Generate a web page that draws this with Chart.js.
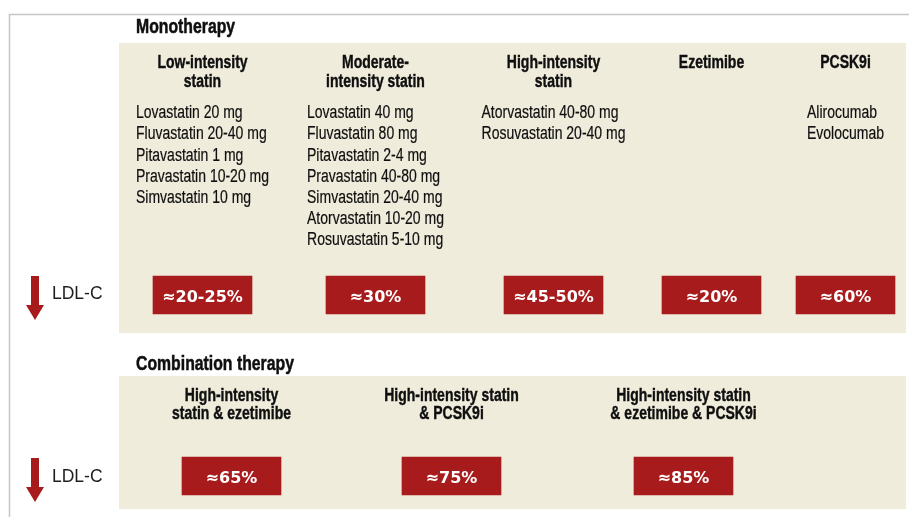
<!DOCTYPE html>
<html>
<head>
<meta charset="utf-8">
<title>LDL-C lowering therapies</title>
<script src="https://cdn.jsdelivr.net/npm/chart.js@4.4.1/dist/chart.umd.min.js"></script>
<style>
  html, body { margin: 0; padding: 0; background: #fff; }
  #wrap { width: 909px; height: 517px; }
</style>
</head>
<body>
<div id="wrap"><canvas id="chart" width="909" height="517"></canvas></div>
<script>
// ===== DATA =====
const sectionTitles = ['Monotherapy', 'Combination therapy'];
const rowLabel = 'LDL-C';

const monoCategories = [
  ['Low-intensity', 'statin'],
  ['Moderate-', 'intensity statin'],
  ['High-intensity', 'statin'],
  ['Ezetimibe'],
  ['PCSK9i']
];
const monoDrugs = [
  ['Lovastatin 20 mg', 'Fluvastatin 20-40 mg', 'Pitavastatin 1 mg', 'Pravastatin 10-20 mg', 'Simvastatin 10 mg'],
  ['Lovastatin 40 mg', 'Fluvastatin 80 mg', 'Pitavastatin 2-4 mg', 'Pravastatin 40-80 mg', 'Simvastatin 20-40 mg', 'Atorvastatin 10-20 mg', 'Rosuvastatin 5-10 mg'],
  ['Atorvastatin 40-80 mg', 'Rosuvastatin 20-40 mg'],
  [],
  ['Alirocumab', 'Evolocumab']
];
// approximate LDL-C reduction, % (from - to)
const monoLdlFrom = [20, 30, 45, 20, 60];
const monoLdlTo   = [25, 30, 50, 20, 60];

const comboCategories = [
  ['High-intensity', 'statin & ezetimibe'],
  ['High-intensity statin', '& PCSK9i'],
  ['High-intensity statin', '& ezetimibe & PCSK9i']
];
const comboLdl = [65, 75, 85];

// ===== LAYOUT (scale units == px) =====
const W = 909, H = 517;
const monoColX  = [202.5, 375.5, 553.5, 711.5, 845.5];
const comboColX = [231.5, 451.5, 683.5];
const BOX_W = 99;
const monoBoxY  = [276, 314];
const comboBoxY = [457, 495];
const panelMono  = { x0: 119, x1: 906, y0: 43,  y1: 333 };
const panelCombo = { x0: 119, x1: 906, y0: 376, y1: 509 };

const RED = '#a81b1c';
const BEIGE = '#f0ecdc';
const INK = '#0f0f0f';
const SANS = '"Liberation Sans", Arial, sans-serif';
const NARROW_X = 0.8;   // horizontal squeeze to mimic the condensed face

const fmtRange = (a, b) => '\u2248' + (a === b ? a : a + '-' + b) + '%';
const monoLabels  = monoLdlFrom.map((v, i) => fmtRange(v, monoLdlTo[i]));
const comboLabels = comboLdl.map(v => fmtRange(v, v));

// ===== DRAWING HELPERS =====
function text(ctx, s, x, y, font, color, align, sx, heavy) {
  ctx.save();
  ctx.font = font;
  ctx.fillStyle = color;
  ctx.textAlign = align || 'left';
  ctx.textBaseline = 'alphabetic';
  ctx.translate(x, y);
  ctx.scale(sx || 1, 1);
  ctx.fillText(s, 0, 0);
  if (heavy) {
    ctx.strokeStyle = color;
    ctx.lineWidth = heavy;
    ctx.strokeText(s, 0, 0);
  }
  ctx.restore();
}

function arrow(ctx, xs, ys, cx, top) {
  const X = v => xs.getPixelForValue(v), Y = v => ys.getPixelForValue(v);
  ctx.fillStyle = RED;
  ctx.fillRect(X(cx - 4), Y(top), 8, Y(top + 30) - Y(top));
  ctx.beginPath();
  ctx.moveTo(X(cx - 9), Y(top + 29));
  ctx.lineTo(X(cx + 9), Y(top + 29));
  ctx.lineTo(X(cx), Y(top + 44));
  ctx.closePath();
  ctx.fill();
}

const infographic = {
  id: 'infographic',
  beforeDatasetsDraw(chart) {
    const ctx = chart.ctx;
    const xs = chart.scales.x, ys = chart.scales.y;
    const X = v => xs.getPixelForValue(v), Y = v => ys.getPixelForValue(v);
    const bold = 'bold 17.5px ' + SANS, reg = '17.5px ' + SANS;
    ctx.save();

    // frame
    ctx.strokeStyle = '#c6c6c6';
    ctx.lineWidth = 1.5;
    ctx.beginPath();
    ctx.moveTo(X(9.5), Y(H));
    ctx.lineTo(X(9.5), Y(14.5));
    ctx.lineTo(X(W), Y(14.5));
    ctx.stroke();

    // panels
    ctx.fillStyle = BEIGE;
    [panelMono, panelCombo].forEach(p => ctx.fillRect(X(p.x0), Y(p.y0), X(p.x1) - X(p.x0), Y(p.y1) - Y(p.y0)));

    // section titles
    text(ctx, sectionTitles[0], X(136), Y(33.3), 'bold 19.5px ' + SANS, INK, 'left', 0.81, 0.5);
    text(ctx, sectionTitles[1], X(136), Y(370), 'bold 19.5px ' + SANS, INK, 'left', 0.81, 0.5);

    // monotherapy headers + drug lists
    monoCategories.forEach((lines, i) => {
      lines.forEach((s, j) => text(ctx, s, X(monoColX[i]), Y(68.3 + j * 18.4), bold, INK, 'center', NARROW_X, 0.4));
      const drugs = monoDrugs[i];
      if (!drugs.length) return;
      ctx.font = reg;
      const wMax = Math.max(...drugs.map(d => ctx.measureText(d).width)) * NARROW_X;
      drugs.forEach((d, j) => text(ctx, d, X(monoColX[i]) - wMax / 2, Y(118.3 + j * 21.1), reg, INK, 'left', NARROW_X, 0.2));
    });

    // combination headers
    comboCategories.forEach((lines, i) => {
      lines.forEach((s, j) => text(ctx, s, X(comboColX[i]), Y(400.6 + j * 18.6), bold, INK, 'center', NARROW_X, 0.4));
    });

    // LDL-C row labels with down arrows
    arrow(ctx, xs, ys, 35, 276);
    arrow(ctx, xs, ys, 35, 458);
    text(ctx, rowLabel, X(52), Y(299), '17.5px ' + SANS, '#1e1e1e');
    text(ctx, rowLabel, X(52), Y(481.5), '17.5px ' + SANS, '#1e1e1e');

    ctx.restore();
  },
  afterDatasetsDraw(chart) {
    const ctx = chart.ctx;
    chart.data.datasets.forEach((ds, di) => {
      const meta = chart.getDatasetMeta(di);
      meta.data.forEach((bar, i) => {
        const cy = (bar.y + bar.base) / 2;
        text(ctx, ds.boxLabels[i], bar.x, cy + 6.5, 'bold 16.5px "DejaVu Sans", sans-serif', '#fff', 'center', 0.97);
      });
    });
  }
};

new Chart(document.getElementById('chart'), {
  type: 'bar',
  data: {
    datasets: [
      {
        label: 'Monotherapy',
        data: monoColX.map(x => ({ x, y: monoBoxY })),
        boxLabels: monoLabels,
        backgroundColor: RED,
        barThickness: BOX_W,
        borderWidth: 0,
        grouped: false
      },
      {
        label: 'Combination therapy',
        data: comboColX.map(x => ({ x, y: comboBoxY })),
        boxLabels: comboLabels,
        backgroundColor: RED,
        barThickness: BOX_W,
        borderWidth: 0,
        grouped: false
      }
    ]
  },
  options: {
    responsive: false,
    animation: false,
    devicePixelRatio: 1,
    layout: { padding: 0 },
    plugins: { legend: { display: false }, tooltip: { enabled: false } },
    scales: {
      x: { type: 'linear', min: 0, max: W, offset: false, display: false },
      y: { type: 'linear', min: 0, max: H, reverse: true, display: false }
    }
  },
  plugins: [infographic]
});
</script>
</body>
</html>
